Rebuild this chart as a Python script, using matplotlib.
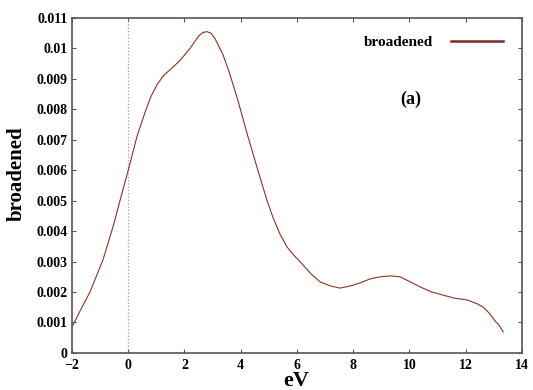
import numpy as np
import matplotlib
matplotlib.use('Agg')
import matplotlib.pyplot as plt

# broadened spectrum
energy = [-2.0, -1.7, -1.36, -0.9, -0.54, -0.22, 0.03, 0.31, 0.6, 0.8, 1.02,
          1.25, 1.49, 1.84, 2.2, 2.5, 2.65, 2.8, 2.95, 3.1, 3.37, 3.6, 3.9,
          4.23, 4.58, 4.94, 5.15, 5.4, 5.65, 5.9, 6.11, 6.5, 6.83, 7.2, 7.54,
          7.9, 8.25, 8.6, 8.96, 9.32, 9.67, 10.0, 10.38, 10.8, 11.2, 11.6,
          12.06, 12.4, 12.63, 12.85, 13.05, 13.2, 13.34]
broadened = [0.00085, 0.0014, 0.0020, 0.00305, 0.00414, 0.00525, 0.0061,
             0.0071, 0.0079, 0.0084, 0.0088, 0.0091, 0.0093, 0.0096, 0.0100,
             0.0104, 0.01052, 0.01055, 0.01050, 0.0103, 0.0098, 0.0092, 0.0083,
             0.0072, 0.0061, 0.0050, 0.00445, 0.0039, 0.00348, 0.0032, 0.0030,
             0.0026, 0.00233, 0.0022, 0.00213, 0.0022, 0.0023, 0.00243, 0.0025,
             0.00253, 0.0025, 0.00235, 0.00217, 0.0020, 0.0019, 0.0018, 0.00174,
             0.00162, 0.0015, 0.0013, 0.00105, 0.0009, 0.00069]

x_ticks = [-2, 0, 2, 4, 6, 8, 10, 12, 14]
y_ticks = [0, 0.001, 0.002, 0.003, 0.004, 0.005, 0.006, 0.007, 0.008, 0.009, 0.01, 0.011]
y_tick_labels = ['0', '0.001', '0.002', '0.003', '0.004', '0.005', '0.006',
                 '0.007', '0.008', '0.009', '0.01', '0.011']

plt.rcParams['font.family'] = ['Liberation Serif', 'DejaVu Serif']
plt.rcParams['font.weight'] = 'bold'

fig = plt.figure(figsize=(5.33, 3.9), dpi=100)
ax = fig.add_axes([0.135, 0.095, 0.844, 0.859])

ax.axvline(0, color='#999999', linestyle=':', linewidth=0.9)
ax.plot(energy, broadened, color='#8a3326', linewidth=0.8, label='broadened')

ax.set_xlim(-2, 14)
ax.set_ylim(0, 0.011)
ax.set_xticks(x_ticks)
ax.set_yticks(y_ticks)
ax.set_yticklabels(y_tick_labels)
ax.tick_params(direction='in', length=3, width=0.8, color='#555555',
               top=True, right=True, labelsize=10, pad=3)
ax.tick_params(axis='x', pad=4)
for s in ax.spines.values():
    s.set_color('#555555')
    s.set_linewidth(1.2)
for lab in ax.get_xticklabels() + ax.get_yticklabels():
    lab.set_fontweight('bold')

ax.set_xlabel('eV', fontsize=16, fontweight='bold', va='center')
ax.xaxis.set_label_coords(0.498, -0.084)
ax.set_ylabel('broadened', fontsize=15, fontweight='bold', va='center')
ax.yaxis.set_label_coords(-0.122, 0.534)

ax.text(10.05, 0.00834, '(a)', fontsize=13, fontweight='bold', ha='center', va='center')

leg = ax.legend(loc='center right', bbox_to_anchor=(0.958, 0.928), frameon=False,
                markerfirst=False, handlelength=3.4, handletextpad=1.2,
                borderpad=0, borderaxespad=0,
                prop={'weight': 'bold', 'size': 11})
for h in leg.get_lines():
    h.set_linewidth(1.8)
    h.set_color('#7a2a20')

fig.savefig('out.png', dpi=100)
